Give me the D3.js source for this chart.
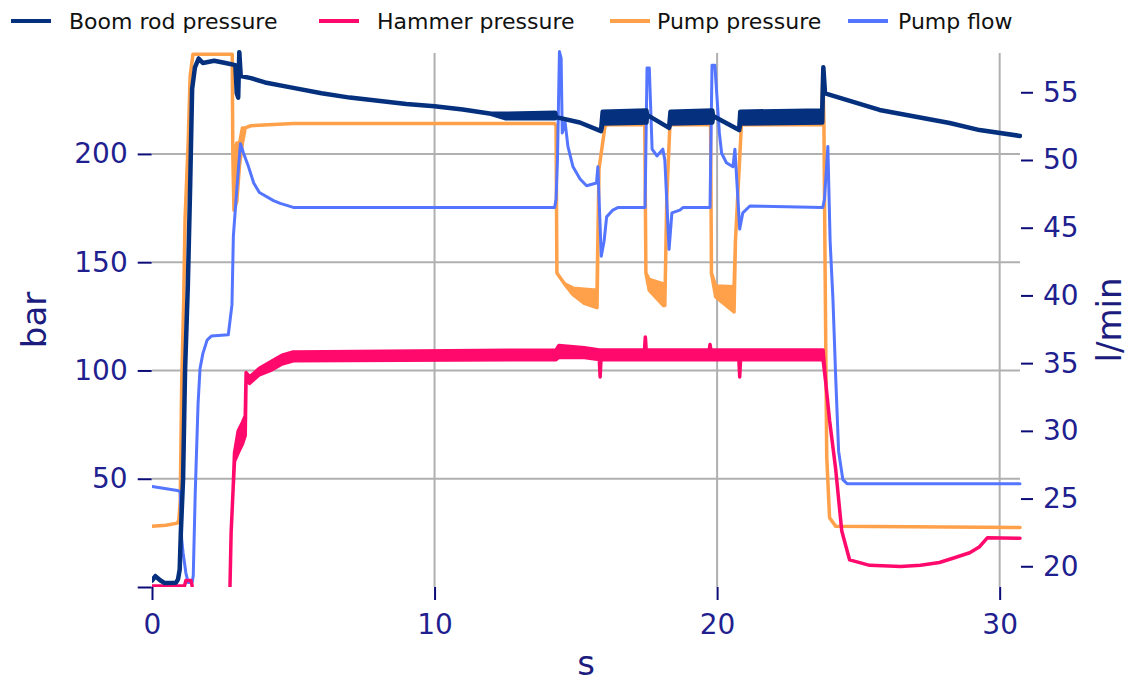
<!DOCTYPE html>
<html>
<head>
<meta charset="utf-8">
<script src="https://cdn.jsdelivr.net/npm/d3@7"></script>
<style>
  body { margin: 0; background: #fff; }
  svg { display: block; font-family: 'DejaVu Sans', sans-serif; }
</style>
</head>
<body>
<div id="chart"></div>
<script>
// points are [s, value] or [s, low, high] where the trace is a noisy band
const boomRod = [
  [0, 3], [0.12, 5], [0.3, 3], [0.45, 1.8], [0.85, 2], [0.92, 3.5], [0.98, 8],
  [1.02, 25], [1.1, 50], [1.17, 100], [1.27, 140], [1.35, 185], [1.42, 230], [1.52, 240], [1.65, 244],
  [1.8, 242], [2.2, 243], [2.6, 242], [2.95, 241], [3.0, 228], [3.05, 226], [3.09, 247], [3.14, 236],
  [3.5, 235], [4, 233], [5, 230.5], [6, 228], [7, 226], [8, 224.5], [9, 223], [10, 222], [11, 220.5],
  [12, 218.5], [12.5, 216.5, 218.5], [14.27, 216.5, 219], [14.3, 217], [15.14, 214.5], [15.89, 210.5],
  [15.95, 214, 219.5], [17.5, 214.5, 220], [17.52, 218], [18.3, 212], [18.35, 214, 219.5],
  [19.83, 214.5, 220], [19.86, 217.5], [20.78, 211], [20.82, 214, 219.5], [23.72, 214.5, 220],
  [23.76, 240], [23.82, 228], [25.75, 220.3], [28.23, 214.3], [29.29, 211], [30.72, 208.3]
]

const hammer = [
  [0, 0.5], [1.15, 0.5], [1.2, 3], [1.38, 3], [1.42, 0.5], [1.45, null],
  [2.76, 0], [2.8, 25], [2.87, 45], [2.92, 58, 62], [3.05, 62, 72], [3.2, 66, 76], [3.3, 70, 79],
  [3.33, 97, 99], [3.45, 94, 97], [3.8, 98, 101], [4.2, 100, 104], [4.6, 103, 107], [5, 104.5, 108.5],
  [14.3, 105, 109.5], [14.4, 106, 111.5], [15.3, 106, 110.5], [15.83, 105, 109.5], [15.86, 97, 109.5],
  [15.89, 105, 109.5], [17.43, 105, 109.5], [17.46, 105, 115.5], [17.49, 105, 109.5],
  [19.72, 105, 109.5], [19.75, 105, 112], [19.78, 105, 109.5], [20.77, 105, 109.5], [20.8, 97, 109.5],
  [20.83, 105, 109.5], [23.75, 105, 109.5], [23.84, 95], [23.98, 77], [24.2, 54], [24.41, 26],
  [24.69, 12.5], [25.4, 10], [26.5, 9.5], [27.2, 10], [27.87, 11.3], [28.4, 13.5], [28.94, 15.8],
  [29.29, 18.6], [29.57, 22.8], [30.72, 22.5]
]

const pumpPressure = [
  [0, 28], [0.5, 28.5], [0.9, 29.5], [0.95, 31], [1.0, 40], [1.05, 94], [1.12, 131], [1.17, 170],
  [1.28, 205], [1.35, 236], [1.45, 246], [2.84, 246], [2.86, 200], [2.9, 174, 200], [3.0, 178, 205],
  [3.1, 195, 205], [3.2, 205, 212], [3.3, 212], [3.5, 213], [5, 214], [14.25, 214], [14.3, 213],
  [14.33, 145], [14.6, 140], [14.9, 135, 138], [15.3, 131, 137.5], [15.75, 129, 137], [15.82, 193],
  [16.03, 212.5], [16.1, 213.5], [17.44, 213.5], [17.48, 145], [17.6, 137, 142], [18.1, 130, 140],
  [18.15, 130], [18.22, 180], [18.33, 213.5], [19.77, 213.5], [19.8, 145], [19.95, 134, 139],
  [20.6, 127, 138.6], [20.65, 160], [20.86, 213.5], [23.7, 213.5], [23.74, 239], [23.78, 214],
  [23.82, 150], [23.88, 60], [23.98, 32], [24.2, 28], [30.72, 27.5]
]

const pumpFlow = [
  [0, 25.9], [0.9, 25.6], [1.0, 25.5], [1.05, 22], [1.1, 21], [1.2, 19.5], [1.28, 18.8], [1.42, 18.8],
  [1.46, 19.3], [1.53, 25.4], [1.63, 32], [1.7, 34.6], [1.8, 35.7], [1.95, 36.7], [2.1, 37], [2.7, 37.1],
  [2.83, 39.3], [2.88, 44.4], [3.0, 47.8], [3.13, 51.2], [3.24, 50.5], [3.4, 49.6], [3.6, 48.3],
  [3.8, 47.6], [4.3, 47], [4.54, 46.8], [5, 46.5], [14.25, 46.5], [14.3, 47.1], [14.35, 50],
  [14.42, 58], [14.48, 57.5], [14.52, 52], [14.62, 52.8], [14.72, 51], [14.9, 49.5], [15.15, 48.6],
  [15.38, 48.1], [15.73, 48.3], [15.78, 49.5], [15.9, 42.9], [16.0, 44], [16.09, 45.8], [16.31, 46.3],
  [16.5, 46.5], [17.45, 46.5], [17.52, 56.8], [17.6, 56.8], [17.7, 50.8], [17.87, 50.3], [18.08, 50.8],
  [18.15, 50], [18.3, 43.4], [18.4, 46.1], [18.68, 46.3], [18.8, 46.5], [19.75, 46.5], [19.82, 57],
  [19.92, 57], [20.08, 52], [20.16, 50.5], [20.33, 49.8], [20.56, 49.5], [20.63, 50.8], [20.8, 44.9],
  [20.91, 46.1], [21.16, 46.6], [23.74, 46.5], [23.8, 47.1], [23.92, 51], [24.0, 44], [24.1, 39.7],
  [24.2, 33.8], [24.3, 28.5], [24.45, 26.4], [24.6, 26.1], [30.72, 26.1]
]

const seriesNames = ['Boom rod pressure', 'Hammer pressure', 'Pump pressure', 'Pump flow']
const leftTicks = [0, 50, 100, 150, 200]
const rightTicks = [20, 25, 30, 35, 40, 45, 50, 55]
const xTicks = [0, 10, 20, 30]

const width = 1132
const height = 684
const margin = { top: 53, right: 112, bottom: 97, left: 152 }
const colors = ['#05307e', '#ff0a6c', '#ffa04a', '#5475ff']
const tickColor = '#1f1f8f'

const x = d3.scaleLinear().domain([0, 30.72]).range([margin.left, width - margin.right])
const yL = d3.scaleLinear().domain([0, 246.6]).range([height - margin.bottom, margin.top])
const yR = d3.scaleLinear().domain([18.47, 57.9]).range([height - margin.bottom, margin.top])

const svg = d3
  .select('#chart')
  .append('svg')
  .attr('width', width)
  .attr('height', height)
  .attr('viewBox', [0, 0, width, height])

// grid
svg
  .append('g')
  .selectAll('line')
  .data(leftTicks.filter((d) => d > 0))
  .join('line')
  .attr('x1', margin.left)
  .attr('x2', width - margin.right)
  .attr('y1', (d) => yL(d))
  .attr('y2', (d) => yL(d))
  .attr('stroke', '#b0b0b0')
  .attr('stroke-width', 2)

svg
  .append('g')
  .selectAll('line')
  .data(xTicks.filter((d) => d > 0))
  .join('line')
  .attr('x1', (d) => x(d))
  .attr('x2', (d) => x(d))
  .attr('y1', margin.top)
  .attr('y2', height - margin.bottom)
  .attr('stroke', '#b0b0b0')
  .attr('stroke-width', 2)

// axes
const axisLeft = d3
  .axisLeft(yL)
  .tickValues(leftTicks)
  .tickSize(14)
  .tickPadding(10)
  .tickFormat((d) => (d === 0 ? '' : d))
const axisBottom = d3.axisBottom(x).tickValues(xTicks).tickSize(13).tickPadding(14)
const axisRight = d3.axisRight(yR).tickValues(rightTicks).tickSize(12).tickPadding(10)

function styleAxis(g) {
  g.select('.domain').remove()
  g.selectAll('.tick line').attr('stroke', '#0c0c78').attr('stroke-width', 2)
  g.selectAll('.tick text')
    .attr('fill', tickColor)
    .style('font-size', '28px')
    .style('font-family', "'DejaVu Sans', sans-serif")
}

svg.append('g').attr('transform', `translate(${margin.left - 0.3},0)`).call(axisLeft).call(styleAxis)
svg.append('g').attr('transform', `translate(0,${height - margin.bottom})`).call(axisBottom).call(styleAxis)
svg.append('g').attr('transform', `translate(${width - margin.right + 1},0)`).call(axisRight).call(styleAxis)

// axis titles
const titleStyle = (t) =>
  t.attr('fill', '#1c1c7e').style('font-size', '34px').attr('text-anchor', 'middle')

svg.append('text').attr('transform', `translate(46,320) rotate(-90)`).text('bar').call(titleStyle)
svg.append('text').attr('transform', `translate(1121,320) rotate(-90)`).text('l/min').call(titleStyle)
svg.append('text').attr('x', 586).attr('y', 675).text('s').call(titleStyle)

// traces
svg
  .append('clipPath')
  .attr('id', 'plot-clip')
  .append('rect')
  .attr('x', margin.left)
  .attr('y', margin.top - 6)
  .attr('width', width - margin.right - margin.left + 2)
  .attr('height', height - margin.bottom - margin.top + 6)

const plot = svg.append('g').attr('clip-path', 'url(#plot-clip)')

function band(yScale) {
  return d3
    .area()
    .defined((d) => d[1] != null)
    .x((d) => x(d[0]))
    .y0((d) => yScale(d[1]))
    .y1((d) => yScale(d.length > 2 ? d[2] : d[1]))
}

const traces = [
  { data: pumpPressure, y: yL, color: colors[2], w: 3.5 },
  { data: pumpFlow, y: yR, color: colors[3], w: 3 },
  { data: hammer, y: yL, color: colors[1], w: 3.5 },
  { data: boomRod, y: yL, color: colors[0], w: 4.5 },
]

traces.forEach((s) => {
  plot
    .append('path')
    .datum(s.data)
    .attr('d', band(s.y))
    .attr('fill', s.color)
    .attr('stroke', s.color)
    .attr('stroke-width', s.w)
    .attr('stroke-linejoin', 'round')
})

// legend
const legendMarkX = [11, 319, 610, 848]
const legendTextX = [69, 377, 657, 898]
const legend = svg.append('g')
seriesNames.forEach((name, i) => {
  legend
    .append('line')
    .attr('x1', legendMarkX[i])
    .attr('x2', legendMarkX[i] + 40)
    .attr('y1', 21)
    .attr('y2', 21)
    .attr('stroke', colors[i])
    .attr('stroke-width', 4)
  legend
    .append('text')
    .attr('x', legendTextX[i])
    .attr('y', 28.5)
    .attr('fill', '#111')
    .style('font-size', '22px')
    .text(name)
})
</script>
</body>
</html>
